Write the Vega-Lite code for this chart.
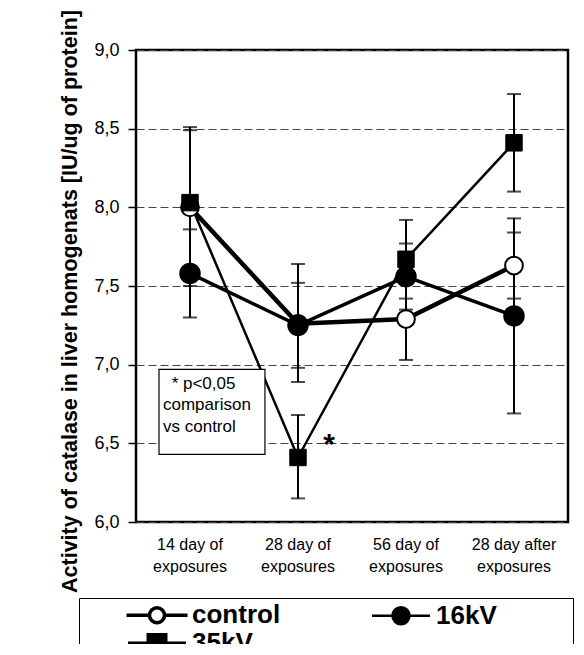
{
  "$schema": "https://vega.github.io/schema/vega-lite/v6.json",
  "width": 432,
  "height": 472,
  "autosize": {"type": "none"},
  "padding": {"left": 136, "top": 50, "right": 16, "bottom": 122},
  "background": "white",
  "config": {
    "font": "Liberation Sans",
    "view": {"stroke": "black", "strokeWidth": 2.5},
    "axisX": {"labelColor": "black"},
    "axisY": {"labelColor": "black"}
  },
  "datasets": {
    "catalase": [
      {"time": "14 day of exposures", "group": "control", "mean": 8.0, "lo": 7.5, "hi": 8.49},
      {"time": "28 day of exposures", "group": "control", "mean": 7.26, "lo": 6.89, "hi": 7.64},
      {"time": "56 day of exposures", "group": "control", "mean": 7.29, "lo": 7.03, "hi": 7.55},
      {"time": "28 day after exposures", "group": "control", "mean": 7.63, "lo": 7.42, "hi": 7.84},
      {"time": "14 day of exposures", "group": "16kV", "mean": 7.58, "lo": 7.3, "hi": 7.86},
      {"time": "28 day of exposures", "group": "16kV", "mean": 7.25, "lo": 6.98, "hi": 7.52},
      {"time": "56 day of exposures", "group": "16kV", "mean": 7.56, "lo": 7.35, "hi": 7.77},
      {"time": "28 day after exposures", "group": "16kV", "mean": 7.31, "lo": 6.69, "hi": 7.93},
      {"time": "14 day of exposures", "group": "35kV", "mean": 8.03, "lo": 7.56, "hi": 8.51},
      {"time": "28 day of exposures", "group": "35kV", "mean": 6.41, "lo": 6.15, "hi": 6.68},
      {"time": "56 day of exposures", "group": "35kV", "mean": 7.67, "lo": 7.42, "hi": 7.92},
      {"time": "28 day after exposures", "group": "35kV", "mean": 8.41, "lo": 8.1, "hi": 8.72}
    ],
    "note": [
      {"from": "14 day of exposures", "to": "28 day of exposures", "top": 6.97, "bottom": 6.43, "headY": 6.846, "bodyY": 6.71, "head": "* p<0,05", "body": "comparison\nvs control"}
    ],
    "star": [
      {"time": "28 day of exposures", "y": 6.43, "label": "*"}
    ]
  },
  "layer": [
    {
      "data": {"name": "catalase"},
      "mark": {"type": "rule", "color": "black", "strokeWidth": 2},
      "encoding": {
        "x": {"field": "time", "type": "nominal", "title": null,
          "scale": {"type": "band", "domain": ["14 day of exposures", "28 day of exposures", "56 day of exposures", "28 day after exposures"], "paddingInner": 0, "paddingOuter": 0},
          "axis": {"ticks": false, "domain": false, "labelFontSize": 16, "labelPadding": 14, "labelLineHeight": 22, "labelAngle": 0,
            "labelExpr": "[replace(datum.label, ' exposures', ''), 'exposures']"}},
        "y": {"field": "lo", "type": "quantitative", "title": "Activity of catalase in liver homogenats [IU/ug of protein]",
          "scale": {"domain": [6, 9], "nice": false, "zero": false},
          "axis": {"values": [6, 6.5, 7, 7.5, 8, 8.5, 9], "labelExpr": "replace(format(datum.value, '.1f'), '.', ',')",
            "labelFontSize": 18, "tickSize": 8, "tickColor": "black", "tickWidth": 1.5, "labelPadding": 9, "domain": false,
            "grid": true, "gridDash": [8, 4], "gridColor": "#444", "gridWidth": 1,
            "titleFontSize": 21.5, "titleFontWeight": "bold", "titleColor": "black",
            "titleAngle": -90, "titleX": -66, "titleY": 251, "titleAlign": "center", "titleBaseline": "middle"}},
        "y2": {"field": "hi"}
      }
    },
    {
      "data": {"name": "catalase"},
      "mark": {"type": "tick", "color": "black", "size": 14, "thickness": 2},
      "encoding": {
        "x": {"field": "time", "type": "nominal", "title": null},
        "y": {"field": "lo", "type": "quantitative", "title": "Activity of catalase in liver homogenats [IU/ug of protein]"}
      }
    },
    {
      "data": {"name": "catalase"},
      "mark": {"type": "tick", "color": "black", "size": 14, "thickness": 2},
      "encoding": {
        "x": {"field": "time", "type": "nominal", "title": null},
        "y": {"field": "hi", "type": "quantitative", "title": "Activity of catalase in liver homogenats [IU/ug of protein]"}
      }
    },
    {
      "data": {"name": "catalase"},
      "mark": {"type": "line", "color": "black"},
      "encoding": {
        "x": {"field": "time", "type": "nominal", "title": null},
        "y": {"field": "mean", "type": "quantitative", "title": "Activity of catalase in liver homogenats [IU/ug of protein]"},
        "detail": {"field": "group", "type": "nominal"},
        "size": {"field": "group", "type": "nominal", "legend": null,
          "scale": {"domain": ["control", "16kV", "35kV"], "range": [4.5, 2.5, 2]}}
      }
    },
    {
      "data": {"name": "catalase"},
      "transform": [{"filter": "datum.group === 'control'"}],
      "mark": {"type": "point", "filled": true, "shape": "circle", "fill": "white", "stroke": "black", "strokeWidth": 2, "size": 314, "opacity": 1},
      "encoding": {
        "x": {"field": "time", "type": "nominal", "title": null},
        "y": {"field": "mean", "type": "quantitative", "title": "Activity of catalase in liver homogenats [IU/ug of protein]"}
      }
    },
    {
      "data": {"name": "catalase"},
      "transform": [{"filter": "datum.group === '16kV'"}],
      "mark": {"type": "point", "filled": true, "shape": "circle", "fill": "black", "stroke": "black", "strokeWidth": 2, "size": 380, "opacity": 1},
      "encoding": {
        "x": {"field": "time", "type": "nominal", "title": null},
        "y": {"field": "mean", "type": "quantitative", "title": "Activity of catalase in liver homogenats [IU/ug of protein]"}
      }
    },
    {
      "data": {"name": "catalase"},
      "transform": [{"filter": "datum.group === '35kV'"}],
      "mark": {"type": "point", "filled": true, "shape": "square", "fill": "black", "stroke": "black", "strokeWidth": 1, "size": 270, "opacity": 1},
      "encoding": {
        "x": {"field": "time", "type": "nominal", "title": null},
        "y": {"field": "mean", "type": "quantitative", "title": "Activity of catalase in liver homogenats [IU/ug of protein]"}
      }
    },
    {
      "data": {"name": "note"},
      "mark": {"type": "rect", "fill": "white", "stroke": "black", "strokeWidth": 1.2},
      "encoding": {
        "x": {"field": "from", "type": "nominal", "bandPosition": 0.213, "title": null},
        "x2": {"field": "to", "bandPosition": 0.194},
        "y": {"field": "top", "type": "quantitative", "title": "Activity of catalase in liver homogenats [IU/ug of protein]"},
        "y2": {"field": "bottom"}
      }
    },
    {
      "data": {"name": "note"},
      "mark": {"type": "text", "align": "left", "baseline": "alphabetic", "fontSize": 17, "color": "black"},
      "encoding": {
        "x": {"field": "from", "type": "nominal", "bandPosition": 0.33, "title": null},
        "y": {"field": "headY", "type": "quantitative", "title": "Activity of catalase in liver homogenats [IU/ug of protein]"},
        "text": {"field": "head"}
      }
    },
    {
      "data": {"name": "note"},
      "mark": {"type": "text", "align": "left", "baseline": "alphabetic", "fontSize": 17, "lineHeight": 22, "lineBreak": "\n", "color": "black"},
      "encoding": {
        "x": {"field": "from", "type": "nominal", "bandPosition": 0.25, "title": null},
        "y": {"field": "bodyY", "type": "quantitative", "title": "Activity of catalase in liver homogenats [IU/ug of protein]"},
        "text": {"field": "body"}
      }
    },
    {
      "data": {"name": "star"},
      "mark": {"type": "text", "align": "center", "baseline": "alphabetic", "fontSize": 30, "fontWeight": "bold", "color": "black"},
      "encoding": {
        "x": {"field": "time", "type": "nominal", "bandPosition": 0.787, "title": null},
        "y": {"field": "y", "type": "quantitative", "title": "Activity of catalase in liver homogenats [IU/ug of protein]"},
        "text": {"field": "label"}
      }
    },
    {
      "data": {"values": []},
      "mark": {"type": "point", "filled": true, "opacity": 1},
      "encoding": {
        "shape": {"field": "group", "type": "nominal",
          "scale": {"domain": ["control", "35kV", "16kV"],
            "range": [
              "M-3.05,0H-0.75M0.75,0H3.05M-0.75,0A0.75,0.75 0 1,1 0.75,0A0.75,0.75 0 1,1 -0.75,0Z",
              "M-2.9,0H-0.9M0.9,0H2.9M-0.9,-0.85H0.9V0.85H-0.9Z",
              "M-2.9,0H-0.85M0.85,0H2.9M-0.85,0A0.85,0.85 0 1,1 0.85,0A0.85,0.85 0 1,1 -0.85,0Z"
            ]},
          "legend": {"orient": "none", "legendX": -57, "legendY": 548, "columns": 2, "title": null,
            "labelFontSize": 26, "labelFontWeight": "bold", "labelColor": "black",
            "labelExpr": "datum.label === '16kV' ? datum.label + '\u00a0\u00a0\u2800\u2800\u2800' : datum.label",
            "strokeColor": "black", "padding": 4, "fillColor": "white",
            "symbolSize": 400, "symbolOffset": 61, "labelOffset": 22, "columnPadding": 46, "rowPadding": -5,
            "symbolOpacity": 1}},
        "fill": {"field": "group", "type": "nominal",
          "scale": {"domain": ["control", "35kV", "16kV"], "range": ["white", "black", "black"]}},
        "stroke": {"field": "group", "type": "nominal",
          "scale": {"domain": ["control", "35kV", "16kV"], "range": ["black", "black", "black"]}},
        "strokeWidth": {"field": "group", "type": "nominal",
          "scale": {"domain": ["control", "35kV", "16kV"], "range": [3.5, 2.5, 2.5]}}
      }
    }
  ]
}
